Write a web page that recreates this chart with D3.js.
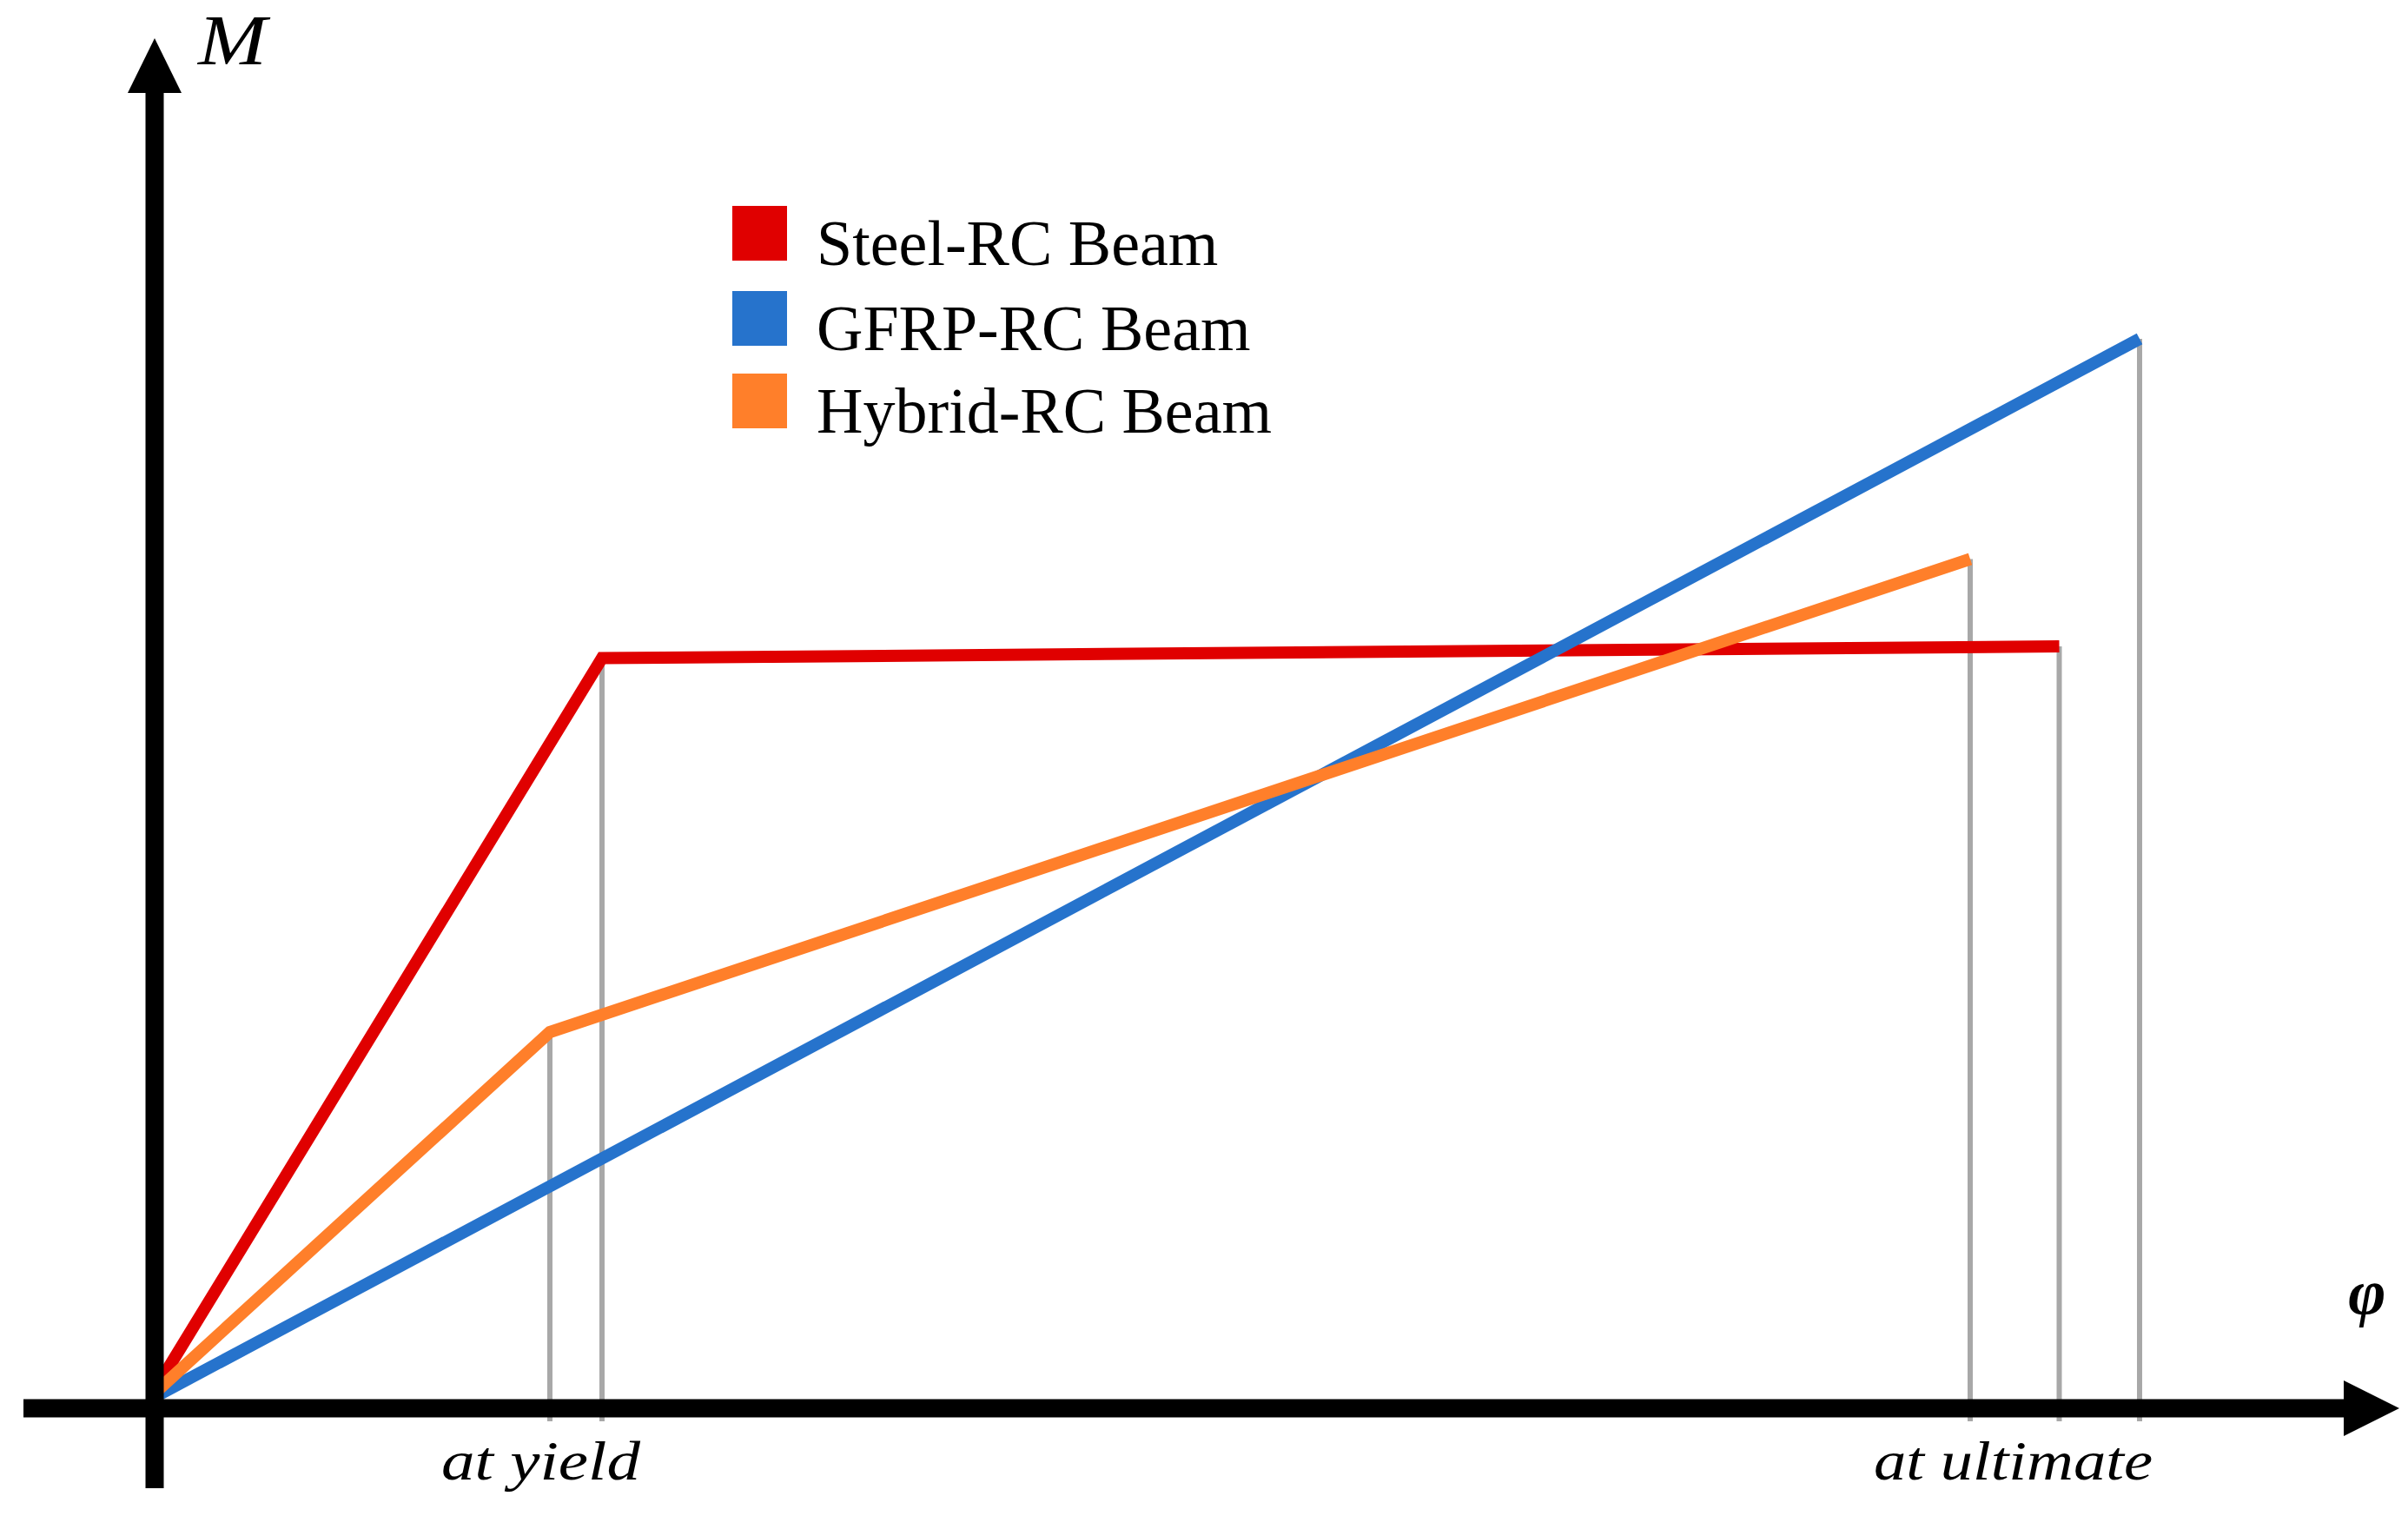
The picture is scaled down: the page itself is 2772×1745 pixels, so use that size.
<!DOCTYPE html>
<html>
<head>
<meta charset="utf-8">
<script src="https://cdn.jsdelivr.net/npm/d3@7"></script>
<style>
  html, body { margin: 0; padding: 0; background: #ffffff; }
  svg { display: block; }
</style>
</head>
<body>
<script>
// ---- data (schematic moment–curvature, arbitrary units) ----
const seriesNames = ["Steel-RC Beam", "GFRP-RC Beam", "Hybrid-RC Beam"];
const steelPhi  = [0, 2.06, 8.77];
const steelM    = [0.05, 5.67, 5.76];
const gfrpPhi   = [0, 9.14];
const gfrpM     = [0, 8.12];
const hybridPhi = [0, 1.82, 8.36];
const hybridM   = [0.03, 2.80, 6.43];
const xLabels   = ["at yield", "at ultimate"];
const axisLabels = ["M", "φ"];

const W = 2772, H = 1745;
const colors = ["#e00000", "#2673cc", "#ff7f2a"];

const x = d3.scaleLinear().domain([0, 10]).range([178, 2678]);
const y = d3.scaleLinear().domain([0, 10]).range([1608, 108]);

const svg = d3.select("body").append("svg")
  .attr("width", W).attr("height", H)
  .attr("viewBox", `0 0 ${W} ${H}`);

const series = [
  { name: seriesNames[0], phi: steelPhi, m: steelM, color: colors[0] },
  { name: seriesNames[1], phi: gfrpPhi, m: gfrpM, color: colors[1] },
  { name: seriesNames[2], phi: hybridPhi, m: hybridM, color: colors[2] }
];
series.forEach(s => { s.pts = s.phi.map((p, i) => [p, s.m[i]]); });

// ---- grey drop lines from yield / ultimate points ----
const drops = [];
series.forEach(s => { s.pts.slice(1).forEach(p => drops.push(p)); });
svg.append("g").selectAll("line").data(drops).join("line")
  .attr("x1", d => x(d[0])).attr("x2", d => x(d[0]))
  .attr("y1", d => y(d[1])).attr("y2", y(0) + 28)
  .attr("stroke", "#a8a8a8").attr("stroke-width", 6);

// ---- curves ----
const line = d3.line().x(d => x(d[0])).y(d => y(d[1]));
svg.append("g").selectAll("path").data(series).join("path")
  .attr("d", d => line(d.pts))
  .attr("fill", "none")
  .attr("stroke", d => d.color)
  .attr("stroke-width", 14)
  .attr("stroke-linejoin", "miter")
  .attr("stroke-miterlimit", 10)
  .attr("stroke-linecap", "butt");

// ---- axes (arrows) ----
const ax = svg.append("g");
const ox = 178, oy = 1621;
ax.append("line").attr("x1", ox).attr("x2", ox).attr("y1", 1713).attr("y2", 100)
  .attr("stroke", "#000").attr("stroke-width", 21);
ax.append("path").attr("d", `M${ox},44 L${ox - 31},107 L${ox + 31},107 Z`).attr("fill", "#000");
ax.append("line").attr("x1", 27).attr("x2", 2705).attr("y1", oy).attr("y2", oy)
  .attr("stroke", "#000").attr("stroke-width", 21);
ax.append("path").attr("d", `M2762,${oy} L2698,${oy - 32} L2698,${oy + 32} Z`).attr("fill", "#000");

// axis labels
ax.append("text").attr("x", 228).attr("y", 74)
  .attr("font-family", "'Liberation Serif', 'DejaVu Serif', serif")
  .attr("font-style", "italic").attr("font-size", 82)
  .attr("textLength", 79).attr("lengthAdjust", "spacingAndGlyphs")
  .text(axisLabels[0]);
ax.append("text").attr("x", 2725).attr("y", 1512)
  .attr("text-anchor", "middle")
  .attr("font-family", "'Liberation Serif', 'DejaVu Serif', serif")
  .attr("font-style", "italic").attr("font-weight", "bold").attr("font-size", 74)
  .text(axisLabels[1]);

// x labels
const xlab = [
  { t: xLabels[0], x0: 508, w: 229 },
  { t: xLabels[1], x0: 2157, w: 321 }
];
svg.append("g").selectAll("text").data(xlab).join("text")
  .attr("x", d => d.x0).attr("y", 1703)
  .attr("font-family", "'Liberation Serif', 'DejaVu Serif', serif")
  .attr("font-style", "italic").attr("font-size", 64)
  .attr("textLength", d => d.w).attr("lengthAdjust", "spacingAndGlyphs")
  .text(d => d.t);

// ---- legend ----
const leg = svg.append("g");
const legTop = [237, 335, 430];
series.forEach((s, i) => {
  leg.append("rect").attr("x", 843).attr("y", legTop[i])
    .attr("width", 63).attr("height", 63).attr("fill", s.color);
  leg.append("text").attr("x", 940).attr("y", legTop[i] + 68)
    .attr("font-family", "'Liberation Serif', 'DejaVu Serif', serif")
    .attr("font-size", 74).attr("fill", "#000")
    .text(s.name);
});
</script>
</body>
</html>
